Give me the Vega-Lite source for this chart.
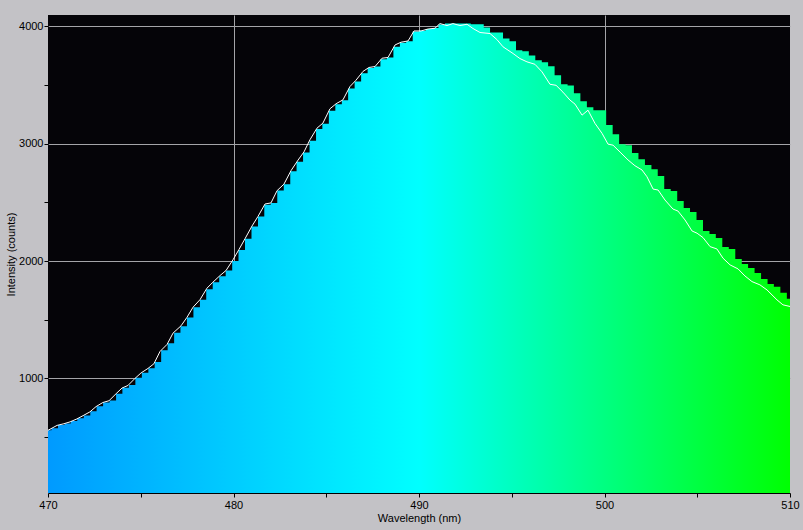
{
"$schema": "https://vega.github.io/schema/vega-lite/v6.json",
"width": 742, "height": 478,
"autosize": {"type": "none"},
"padding": {"left": 48, "top": 15, "right": 13, "bottom": 37},
"background": "#c3c2c6",
"config": {
  "view": {"fill": "#050408", "stroke": null},
  "font": "Liberation Sans",
  "axis": {"labelFontSize": 11, "labelColor": "#000000", "titleFontSize": 11, "titleFontWeight": "normal", "titleColor": "#000000", "tickColor": "#000000", "tickSize": 4, "domainColor": "#000000", "gridColor": "#a4a4a8", "gridWidth": 1, "labelFlush": false, "labelOverlap": false}
},
"datasets": {
  "bars": [
    {"wavelength":469.84,"counts":558},{"wavelength":470.19,"counts":575},{"wavelength":470.54,"counts":603},{"wavelength":470.89,"counts":615},{"wavelength":471.23,"counts":637},{"wavelength":471.58,"counts":660},{"wavelength":471.93,"counts":685},{"wavelength":472.28,"counts":720},{"wavelength":472.62,"counts":762},{"wavelength":472.97,"counts":796},{"wavelength":473.32,"counts":812},{"wavelength":473.67,"counts":870},{"wavelength":474.01,"counts":920},{"wavelength":474.36,"counts":945},{"wavelength":474.71,"counts":1005},{"wavelength":475.06,"counts":1048},{"wavelength":475.41,"counts":1087},{"wavelength":475.75,"counts":1140},{"wavelength":476.10,"counts":1240},{"wavelength":476.45,"counts":1300},{"wavelength":476.80,"counts":1390},{"wavelength":477.14,"counts":1445},{"wavelength":477.49,"counts":1520},{"wavelength":477.84,"counts":1607},{"wavelength":478.19,"counts":1670},{"wavelength":478.53,"counts":1760},{"wavelength":478.88,"counts":1820},{"wavelength":479.23,"counts":1870},{"wavelength":479.58,"counts":1920},{"wavelength":479.93,"counts":2000},{"wavelength":480.27,"counts":2095},{"wavelength":480.62,"counts":2190},{"wavelength":480.97,"counts":2295},{"wavelength":481.32,"counts":2380},{"wavelength":481.66,"counts":2480},{"wavelength":482.01,"counts":2495},{"wavelength":482.36,"counts":2600},{"wavelength":482.71,"counts":2655},{"wavelength":483.06,"counts":2765},{"wavelength":483.40,"counts":2845},{"wavelength":483.75,"counts":2925},{"wavelength":484.10,"counts":3025},{"wavelength":484.45,"counts":3125},{"wavelength":484.79,"counts":3170},{"wavelength":485.14,"counts":3280},{"wavelength":485.49,"counts":3335},{"wavelength":485.84,"counts":3370},{"wavelength":486.18,"counts":3470},{"wavelength":486.53,"counts":3530},{"wavelength":486.88,"counts":3600},{"wavelength":487.23,"counts":3645},{"wavelength":487.58,"counts":3657},{"wavelength":487.92,"counts":3720},{"wavelength":488.27,"counts":3733},{"wavelength":488.62,"counts":3825},{"wavelength":488.97,"counts":3860},{"wavelength":489.31,"counts":3873},{"wavelength":489.66,"counts":3955},{"wavelength":490.01,"counts":3962},{"wavelength":490.36,"counts":3977},{"wavelength":490.70,"counts":3985},{"wavelength":491.05,"counts":4015},{"wavelength":491.40,"counts":4023},{"wavelength":491.75,"counts":4023},{"wavelength":492.10,"counts":4023},{"wavelength":492.44,"counts":4023},{"wavelength":492.79,"counts":4017},{"wavelength":493.14,"counts":4017},{"wavelength":493.49,"counts":3989},{"wavelength":493.83,"counts":3947},{"wavelength":494.18,"counts":3947},{"wavelength":494.53,"counts":3896},{"wavelength":494.88,"counts":3872},{"wavelength":495.23,"counts":3796},{"wavelength":495.57,"counts":3787},{"wavelength":495.92,"counts":3752},{"wavelength":496.27,"counts":3710},{"wavelength":496.62,"counts":3693},{"wavelength":496.96,"counts":3659},{"wavelength":497.31,"counts":3583},{"wavelength":497.66,"counts":3506},{"wavelength":498.01,"counts":3495},{"wavelength":498.35,"counts":3430},{"wavelength":498.70,"counts":3362},{"wavelength":499.05,"counts":3311},{"wavelength":499.40,"counts":3285},{"wavelength":499.75,"counts":3285},{"wavelength":500.09,"counts":3158},{"wavelength":500.44,"counts":3081},{"wavelength":500.79,"counts":2996},{"wavelength":501.14,"counts":2987},{"wavelength":501.48,"counts":2920},{"wavelength":501.83,"counts":2868},{"wavelength":502.18,"counts":2818},{"wavelength":502.53,"counts":2783},{"wavelength":502.87,"counts":2724},{"wavelength":503.22,"counts":2613},{"wavelength":503.57,"counts":2596},{"wavelength":503.92,"counts":2511},{"wavelength":504.27,"counts":2452},{"wavelength":504.61,"counts":2418},{"wavelength":504.96,"counts":2350},{"wavelength":505.31,"counts":2256},{"wavelength":505.66,"counts":2231},{"wavelength":506.00,"counts":2197},{"wavelength":506.35,"counts":2120},{"wavelength":506.70,"counts":2103},{"wavelength":507.05,"counts":2018},{"wavelength":507.40,"counts":1975},{"wavelength":507.74,"counts":1941},{"wavelength":508.09,"counts":1899},{"wavelength":508.44,"counts":1848},{"wavelength":508.79,"counts":1805},{"wavelength":509.13,"counts":1780},{"wavelength":509.48,"counts":1729},{"wavelength":509.83,"counts":1678},{"wavelength":510.18,"counts":1650}
  ],
  "line": [
    {"wavelength":470.00,"counts":558},{"wavelength":470.49,"counts":600},{"wavelength":470.86,"counts":614},{"wavelength":471.19,"counts":630},{"wavelength":471.56,"counts":655},{"wavelength":471.89,"counts":683},{"wavelength":472.26,"counts":715},{"wavelength":472.59,"counts":760},{"wavelength":472.96,"counts":795},{"wavelength":473.29,"counts":810},{"wavelength":473.67,"counts":870},{"wavelength":473.99,"counts":918},{"wavelength":474.31,"counts":940},{"wavelength":474.69,"counts":1000},{"wavelength":475.01,"counts":1046},{"wavelength":475.39,"counts":1085},{"wavelength":475.71,"counts":1125},{"wavelength":476.04,"counts":1230},{"wavelength":476.42,"counts":1290},{"wavelength":476.74,"counts":1386},{"wavelength":477.17,"counts":1448},{"wavelength":477.49,"counts":1520},{"wavelength":477.82,"counts":1607},{"wavelength":478.19,"counts":1670},{"wavelength":478.57,"counts":1769},{"wavelength":478.89,"counts":1820},{"wavelength":479.27,"counts":1876},{"wavelength":479.60,"counts":1920},{"wavelength":479.97,"counts":2010},{"wavelength":480.30,"counts":2100},{"wavelength":480.62,"counts":2190},{"wavelength":481.00,"counts":2299},{"wavelength":481.32,"counts":2380},{"wavelength":481.70,"counts":2486},{"wavelength":482.02,"counts":2495},{"wavelength":482.35,"counts":2600},{"wavelength":482.72,"counts":2655},{"wavelength":483.10,"counts":2770},{"wavelength":483.48,"counts":2860},{"wavelength":483.80,"counts":2930},{"wavelength":484.12,"counts":3033},{"wavelength":484.50,"counts":3132},{"wavelength":484.82,"counts":3175},{"wavelength":485.20,"counts":3297},{"wavelength":485.53,"counts":3340},{"wavelength":485.90,"counts":3373},{"wavelength":486.28,"counts":3487},{"wavelength":486.60,"counts":3540},{"wavelength":486.98,"counts":3615},{"wavelength":487.30,"counts":3649},{"wavelength":487.63,"counts":3657},{"wavelength":488.01,"counts":3728},{"wavelength":488.33,"counts":3734},{"wavelength":488.71,"counts":3841},{"wavelength":489.03,"counts":3864},{"wavelength":489.41,"counts":3875},{"wavelength":489.73,"counts":3960},{"wavelength":490.11,"counts":3960},{"wavelength":490.49,"counts":3977},{"wavelength":490.86,"counts":3983},{"wavelength":491.13,"counts":4023},{"wavelength":491.51,"counts":4006},{"wavelength":491.83,"counts":4023},{"wavelength":492.21,"counts":4006},{"wavelength":492.59,"counts":4017},{"wavelength":492.91,"counts":3981},{"wavelength":493.29,"counts":3947},{"wavelength":493.83,"counts":3938},{"wavelength":494.20,"counts":3887},{"wavelength":494.53,"counts":3825},{"wavelength":495.07,"counts":3768},{"wavelength":495.44,"counts":3725},{"wavelength":495.82,"counts":3697},{"wavelength":496.25,"counts":3676},{"wavelength":496.63,"counts":3612},{"wavelength":497.06,"counts":3506},{"wavelength":497.39,"counts":3497},{"wavelength":497.76,"counts":3439},{"wavelength":498.14,"counts":3371},{"wavelength":498.41,"counts":3337},{"wavelength":498.79,"counts":3243},{"wavelength":499.11,"counts":3285},{"wavelength":499.49,"counts":3172},{"wavelength":499.87,"counts":3087},{"wavelength":500.19,"counts":2996},{"wavelength":500.46,"counts":2987},{"wavelength":500.84,"counts":2928},{"wavelength":501.27,"counts":2861},{"wavelength":501.64,"counts":2812},{"wavelength":502.02,"counts":2776},{"wavelength":502.29,"counts":2718},{"wavelength":502.62,"counts":2613},{"wavelength":502.89,"counts":2605},{"wavelength":503.26,"counts":2520},{"wavelength":503.69,"counts":2443},{"wavelength":503.96,"counts":2426},{"wavelength":504.34,"counts":2350},{"wavelength":504.72,"counts":2256},{"wavelength":504.99,"counts":2237},{"wavelength":505.31,"counts":2200},{"wavelength":505.69,"counts":2123},{"wavelength":506.06,"counts":2103},{"wavelength":506.39,"counts":2024},{"wavelength":506.77,"counts":1967},{"wavelength":507.20,"counts":1933},{"wavelength":507.57,"counts":1873},{"wavelength":507.95,"counts":1825},{"wavelength":508.38,"counts":1797},{"wavelength":508.76,"counts":1754},{"wavelength":509.30,"counts":1669},{"wavelength":509.62,"counts":1627},{"wavelength":510.00,"counts":1613}
  ]
},
"encoding": {
  "x": {"field": "wavelength", "type": "quantitative",
    "scale": {"domain": [470, 510], "nice": false, "zero": false},
    "axis": {"title": "Wavelength (nm)", "values": [470,475,480,485,490,495,500,505,510], "format": "d",
      "labelExpr": "datum.value % 10 === 0 ? datum.label : ''",
      "gridOpacity": {"condition": {"test": "datum.value % 10 === 0 && datum.value > 470 && datum.value < 510", "value": 1}, "value": 0},
      "labelPadding": 2, "titlePadding": 2}},
  "y": {"field": "counts", "type": "quantitative",
    "scale": {"domain": [24, 4096], "nice": false, "zero": false},
    "axis": {"title": "Intensity (counts)", "values": [500,1000,1500,2000,2500,3000,3500,4000], "format": "d",
      "labelExpr": "datum.value % 1000 === 0 ? datum.label : ''",
      "gridOpacity": {"condition": {"test": "datum.value % 1000 === 0", "value": 1}, "value": 0},
      "domain": false, "labelPadding": 1, "titlePadding": 2}}
},
"layer": [
  {"data": {"name": "bars"},
   "mark": {"type": "area", "interpolate": "step-after", "clip": true,
     "color": {"gradient": "linear", "x1": 0, "y1": 0, "x2": 1, "y2": 0,
       "stops": [{"offset": 0, "color": "#0099ff"}, {"offset": 0.5, "color": "#00ffff"}, {"offset": 1, "color": "#00ff00"}]}}},
  {"data": {"name": "line"},
   "mark": {"type": "line", "color": "#ffffff", "strokeWidth": 1, "clip": true}}
]
}
